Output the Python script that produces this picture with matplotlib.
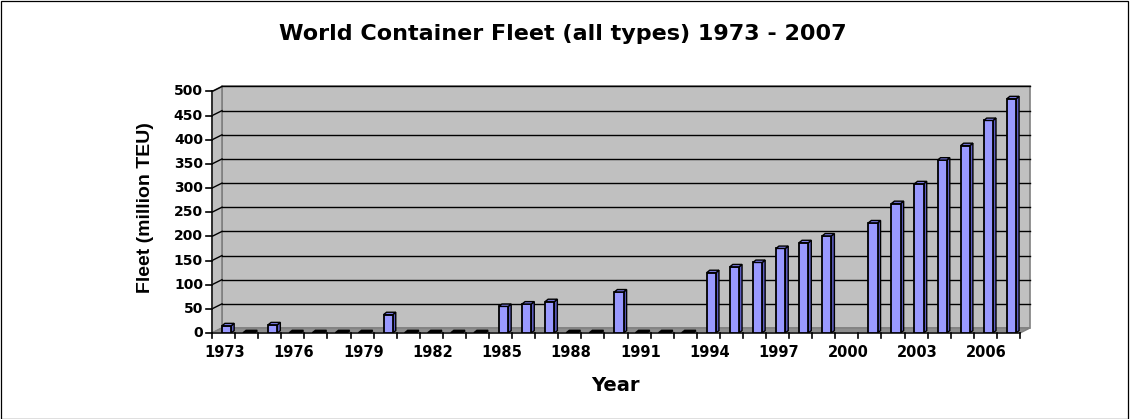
import numpy as np
import matplotlib
matplotlib.use("Agg")
import matplotlib.pyplot as plt
from matplotlib.patches import Polygon, Rectangle

plt.rcParams['font.family'] = ['DejaVu Sans']

# ---- data ----
years = list(range(1973, 2008))
fleet = [15, 0, 17, 0, 0, 0, 0, 38, 0, 0, 0, 0, 55, 60, 65, 0, 0, 85, 0, 0, 0,
         125, 137, 146, 175, 187, 201, None, 228, 268, 309, 358, 388, 440, 485]
tick_years = [1973, 1976, 1979, 1982, 1985, 1988, 1991, 1994, 1997, 2000, 2003, 2006]
yticks = list(range(0, 501, 50))
title = "World Container Fleet (all types) 1973 - 2007"
xlabel = "Year"
ylabel = "Fleet (million TEU)"

W, H = 1130, 419
fig = plt.figure(figsize=(W / 100, H / 100), dpi=100)
fig.patch.set_facecolor('white')

# front plane of the 3D box, in pixels
fx0, fx1 = 212, 1020
fy0, fy1 = 333, 91.5
ax = fig.add_axes([fx0 / W, (H - fy0) / H, (fx1 - fx0) / W, (fy0 - fy1) / H])
n = len(years)
ax.set_xlim(0, n)
ax.set_ylim(0, 500)
ax.axis('off')

px_x = (fx1 - fx0) / n          # px per slot
px_y = (fy0 - fy1) / 500.0      # px per unit
DX, DY = 10 / px_x, 5 / px_y    # wall depth in data units
BDX, BDY = 3 / px_x, 2.4 / px_y # bar depth

wall_c = '#C0C0C0'
floor_c = '#8E8E8E'
edge_c = '#808080'

# back wall
ax.add_patch(Rectangle((DX, DY), n, 500, facecolor=wall_c, edgecolor=edge_c, lw=1.2, clip_on=False, zorder=1))
# side wall
ax.add_patch(Polygon([(0, 0), (DX, DY), (DX, 500 + DY), (0, 500)], closed=True,
                     facecolor=wall_c, edgecolor=edge_c, lw=1.2, clip_on=False, zorder=1))
# floor
ax.add_patch(Polygon([(0, 0), (n, 0), (n + DX, DY), (DX, DY)], closed=True,
                     facecolor=floor_c, edgecolor=edge_c, lw=1, clip_on=False, zorder=1))

# gridlines
for v in yticks[1:]:
    ax.plot([DX, n + DX], [v + DY, v + DY], color='black', lw=1, zorder=2, clip_on=False)
    ax.plot([0, DX], [v, v + DY], color='black', lw=1, zorder=2, clip_on=False)

# axis lines and ticks
ax.plot([0, 0], [0, 500], color='#202020', lw=1.2, zorder=3, clip_on=False)
ax.plot([0, n], [0, 0], color='#202020', lw=1.2, zorder=3, clip_on=False)
tick_len_x = 6 / px_x
tick_len_y = 5 / px_y
for v in yticks:
    ax.plot([-tick_len_x, 0], [v, v], color='black', lw=1.2, clip_on=False, zorder=3)
    ax.text(-tick_len_x - 3 / px_x, v, str(v), ha='right', va='center', fontsize=10,
            fontweight='bold', clip_on=False)
for i in range(n + 1):
    ax.plot([i, i], [0, -tick_len_y], color='black', lw=1.2, clip_on=False, zorder=3)
for yr in tick_years:
    i = years.index(yr)
    ax.text(i + 0.55, -24 / px_y, str(yr), ha='center', va='baseline', fontsize=10.5,
            fontweight='bold', clip_on=False)

# bars
front_c = '#9999FF'
side_c = '#5C5CC0'
top_c = '#7B7BE6'
off = 0.43
bw = 0.40
xs = [i + off for i in range(n)]
vals = [v for v in fleet]
bx = [x for x, v in zip(xs, vals) if v]
bv = [v for v in vals if v]
ax.bar(bx, bv, width=bw, align='edge', color=front_c, edgecolor='black', lw=1.3, zorder=5)
for x, v in zip(xs, vals):
    if v is None:
        continue
    x1 = x + bw
    if v > 0:
        ax.add_patch(Polygon([(x1, 0), (x1 + BDX, BDY), (x1 + BDX, v + BDY), (x1, v)], closed=True,
                             facecolor=side_c, edgecolor='black', lw=1.0, zorder=4))
        ax.add_patch(Polygon([(x, v), (x1, v), (x1 + BDX, v + BDY), (x + BDX, v + BDY)], closed=True,
                             facecolor=top_c, edgecolor='black', lw=1.0, zorder=6))
    else:
        ax.add_patch(Polygon([(x - 0.08, 0), (x1, 0), (x1 + BDX, BDY), (x - 0.08 + BDX, BDY)], closed=True,
                             facecolor='black', edgecolor='black', lw=1.4, zorder=4))

# texts
fig.text(563 / W, 1 - 40 / H, title, ha='center', va='baseline', fontsize=16, fontweight='bold')
fig.text(615 / W, 1 - 391 / H, xlabel, ha='center', va='baseline', fontsize=14, fontweight='bold')
fig.text(146 / W, 1 - 208 / H, ylabel, ha='center', va='center', fontsize=14, fontweight='bold',
         rotation=90, family=['Liberation Sans', 'DejaVu Sans'])

# outer border
fig.add_artist(Rectangle((0.0005, 0.001), 0.998, 0.997, transform=fig.transFigure, fill=False,
                         edgecolor='black', lw=0.9))

fig.savefig('out.png', dpi=100)
